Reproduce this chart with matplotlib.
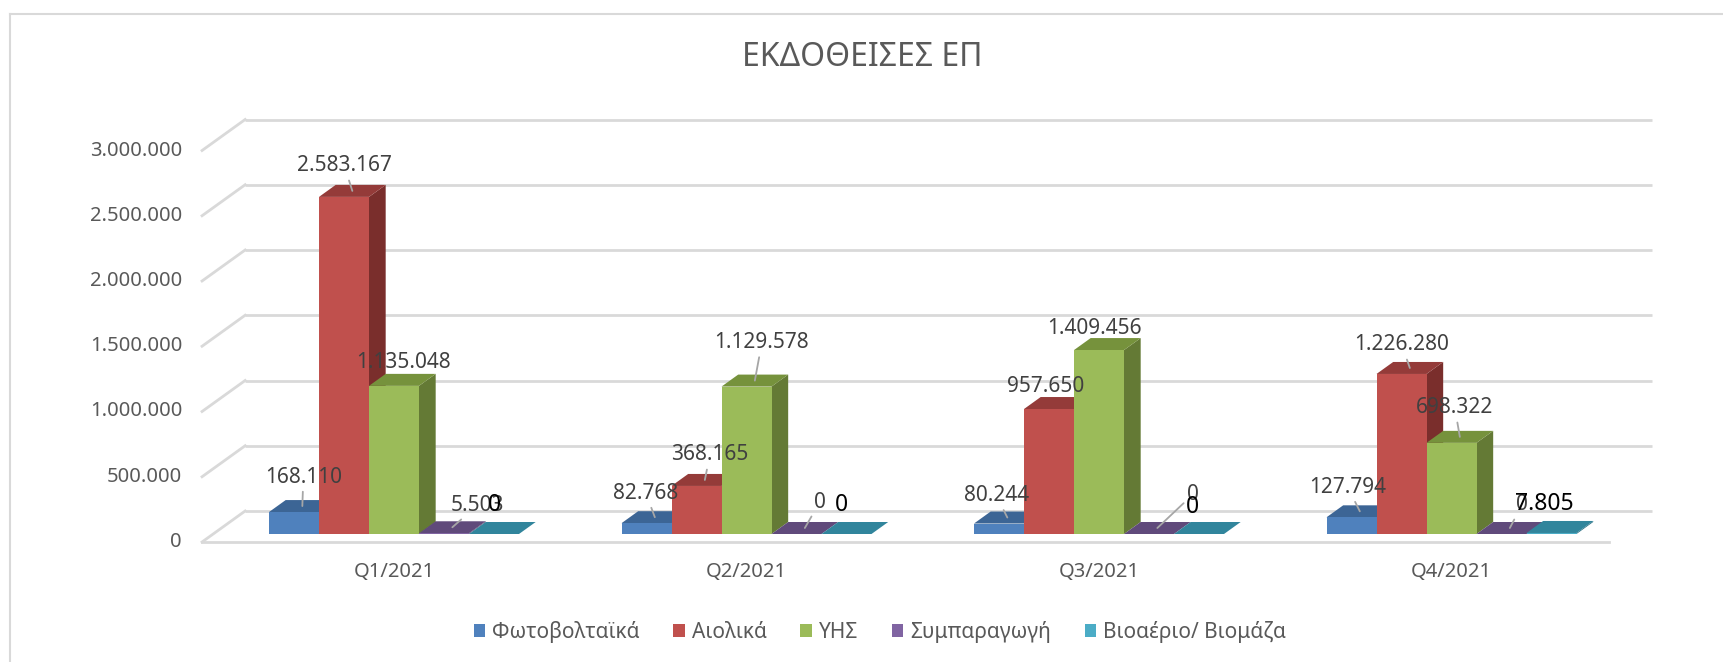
import matplotlib
matplotlib.use('Agg')
import matplotlib.pyplot as plt
from matplotlib.patches import Polygon, Patch
from matplotlib.lines import Line2D

plt.rcParams['font.family'] = ['Noto Sans', 'DejaVu Sans']

# data
quarters = ['Q1/2021', 'Q2/2021', 'Q3/2021', 'Q4/2021']
series = ['Φωτοβολταϊκά', 'Αιολικά', 'ΥΗΣ', 'Συμπαραγωγή', 'Βιοαέριο/ Βιομάζα']
pv = [168110, 82768, 80244, 127794]
wind = [2583167, 368165, 957650, 1226280]
hydro = [1135048, 1129578, 1409456, 698322]
chp = [5503, 0, 0, 0]
bio = [0, 0, 0, 7805]
yticks = [0, 500000, 1000000, 1500000, 2000000, 2500000, 3000000]

values = [pv, wind, hydro, chp, bio]

# colours: front, top, side
front = ['#4F81BD', '#C0504D', '#9BBB59', '#8064A2', '#4BACC6']
top = ['#3C6595', '#943B39', '#76923C', '#604A7B', '#31859C']
side = ['#345683', '#7A2E2C', '#647A35', '#4E3C66', '#2A6F82']

# label offsets (px) from the front-top centre of each bar
lab_off = [
    [(9, 35), (-1, 30), (-3, 28), (-4, 30)],
    [(0, 31), (13, 31), (-4, 23), (0, 29)],
    [(9, 23), (15, 44), (-5, 22), (3, 35)],
    [(33, 28), (23, 32), (44, 40), (20, 29)],
    [(0, 29), (-5, 29), (-7, 27), (-7, 29)],
]

W, H = 1724, 662
PX_X = 352.5            # px per category
PX_Y = 130.5 / 1e6      # px per value unit
X0, Y0 = 394, 128       # px position of category 0 / value 0
SLOPE = 1.39            # depth dx per depth dy (px)


def off(d):
    return d * SLOPE / PX_X, d / PX_Y


fig = plt.figure(figsize=(W / 100, H / 100), dpi=100)
ax = fig.add_axes([0, 0, 1, 1])
ax.set_xlim(-X0 / PX_X, (W - X0) / PX_X)
ax.set_ylim(-Y0 / PX_Y, (H - Y0) / PX_Y)
ax.axis('off')

grid_c = '#D9D9D9'
txt_c = '#595959'
lab_c = '#404040'

L, R = -0.513, 3.478
bx, by = off(23)
fx, fy = off(-8)
for v in yticks:
    ax.plot([L + bx, R + bx], [v + by, v + by], color=grid_c, lw=2, zorder=1,
            solid_capstyle='butt')
    ax.plot([L + fx, L + bx], [v + fy, v + by], color=grid_c, lw=2, zorder=1)
    ax.annotate(f'{v:,}'.replace(',', '.'), xy=(L + fx, v + fy), xytext=(-20, 0),
                textcoords='offset pixels', ha='right', va='center',
                fontsize=14.5, color=txt_c)
ax.plot([L + fx, R + fx], [fy, fy], color=grid_c, lw=2, zorder=1)

w = 50 / PX_X
tx, ty = off(12)
z = 2
for i, q in enumerate(quarters):
    ax.annotate(q, xy=(i, 0), xytext=(0, -38), textcoords='offset pixels',
                ha='center', va='center', fontsize=14.5, color=txt_c)
    for j in range(len(series)):
        h = values[j][i]
        xl = i - 2.5 * w + j * w
        ax.add_patch(Polygon([(xl + w, 0), (xl + w, h), (xl + w + tx, h + ty), (xl + w + tx, ty)],
                             closed=True, fc=side[j], ec='none', zorder=z))
        ax.add_patch(Polygon([(xl, h), (xl + w, h), (xl + w + tx, h + ty), (xl + tx, h + ty)],
                             closed=True, fc=top[j], ec='none', zorder=z))
        ax.add_patch(Polygon([(xl, 0), (xl + w, 0), (xl + w, h), (xl, h)],
                             closed=True, fc=front[j], ec='none', zorder=z))
        z += 1

for i in range(len(quarters)):
    for j in range(len(series)):
        h = values[j][i]
        xc = i - 2.5 * w + j * w + w / 2
        dx, dy = lab_off[j][i]
        s = f'{h:,}'.replace(',', '.')
        if j == 4:
            ax.annotate(s, xy=(xc, h), xytext=(dx, dy), textcoords='offset pixels',
                        ha='center', va='center', fontsize=16.5, color='black', zorder=60)
            continue
        xy = (xc + tx / 2, h + ty / 2)
        props = None
        if dy > 26:
            props = dict(arrowstyle='-', color='#A6A6A6', lw=1.3, shrinkA=1, shrinkB=0)
        ax.annotate(s, xy=xy, xytext=(dx - 8, dy - 6), textcoords='offset pixels',
                    ha='center', va='center', fontsize=15, color=lab_c,
                    arrowprops=props, zorder=50)

fig.text(862 / W, 1 - 57 / H, 'ΕΚΔΟΘΕΙΣΕΣ ΕΠ', ha='center', va='center',
         fontsize=23, color=txt_c)

handles = [Patch(facecolor=c, edgecolor='none') for c in front]
leg = fig.legend(handles, series, loc='center', bbox_to_anchor=(880 / W, 1 - 632 / H),
                 ncol=5, frameon=False, fontsize=15, handlelength=0.55, handleheight=0.55,
                 handletextpad=0.35, columnspacing=1.6)
for t in leg.get_texts():
    t.set_color(txt_c)

# chart border
fig.add_artist(Line2D([10 / W, 1], [1 - 14 / H, 1 - 14 / H], transform=fig.transFigure,
                      color=grid_c, lw=1.5))
fig.add_artist(Line2D([10 / W, 10 / W], [0, 1 - 14 / H], transform=fig.transFigure,
                      color=grid_c, lw=1.5))

fig.savefig('out.png', dpi=100)
